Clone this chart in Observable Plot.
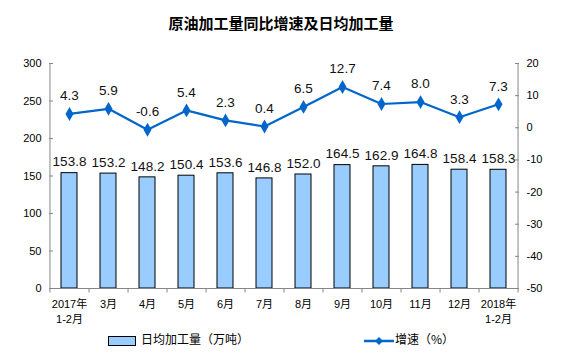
<!DOCTYPE html>
<html><head><meta charset="utf-8">
<script src="https://cdn.jsdelivr.net/npm/d3@7"></script>
<script src="https://cdn.jsdelivr.net/npm/@observablehq/plot@0.6"></script>
<style>
body{margin:0;background:#fff;font-family:"Liberation Sans","Noto Sans CJK SC",sans-serif;}
#wrap{position:relative;width:562px;height:358px;}
#title{position:absolute;top:12px;left:0;width:562px;text-align:center;font-size:15px;font-weight:bold;font-family:"Noto Sans CJK SC",sans-serif;color:#000;}
#chart{position:absolute;top:40px;left:0;}
.leg{position:absolute;top:330px;font-size:12px;font-family:"Noto Sans CJK SC",sans-serif;color:#000;}
</style></head>
<body><div id="wrap"><div id="title">原油加工量同比增速及日均加工量</div><div id="chart"></div>
<div class="leg" style="left:108px;"><span style="display:inline-block;width:26px;height:8px;background:#99CCFF;border:1px solid #000;vertical-align:middle;margin-right:5px;"></span>日均加工量（万吨）</div>
<div class="leg" style="left:364px;"><svg width="30" height="10" style="vertical-align:middle;margin-right:1px;"><line x1="0" y1="5" x2="30" y2="5" stroke="#0066CC" stroke-width="2.5"/><path d="M15,1 L19,5 L15,9 L11,5Z" fill="#0066CC"/></svg>增速（%）</div>
</div>
<script>
const months = ["2017年\n1-2月","3月","4月","5月","6月","7月","8月","9月","10月","11月","12月","2018年\n1-2月"];
const daily = [153.8,153.2,148.2,150.4,153.6,146.8,152.0,164.5,162.9,164.8,158.4,158.3];
const growth = [4.3,5.9,-0.6,5.4,2.3,0.4,6.5,12.7,7.4,8.0,3.3,7.3];
const leftTicks = [0,50,100,150,200,250,300];
const rightTicks = [-50,-40,-30,-20,-10,0,10,20];

const toLeft = g => (g + 50) * 300 / 70;
const data = months.map((m,i)=>({m, d: daily[i], g: growth[i], gy: toLeft(growth[i])}));
const W = 562, ML = 49, MR = 44;
const step = (W - ML - MR) / months.length;
const gray = "#868686";

const plot = Plot.plot({
  width: W, height: 300,
  marginLeft: ML, marginRight: MR, marginTop: 23, marginBottom: 52,
  style: {fontFamily: "'Liberation Sans','Noto Sans CJK SC',sans-serif", fontSize: "11px", color: "#000", overflow: "visible"},
  x: {domain: months, type: "band", paddingInner: 0.58, paddingOuter: 0.29, label: null},
  y: {domain: [0, 300], label: null},
  marks: [
    Plot.barY(data, {x: "m", y: "d", fill: "#99CCFF", stroke: "#000", strokeWidth: 1}),
    Plot.axisY(leftTicks, {anchor: "left", tickSize: -4, tickPadding: 12, stroke: gray, fontSize: 11, label: null}),
    Plot.axisY(rightTicks.map(toLeft), {anchor: "right", tickSize: -4, tickPadding: 12, stroke: gray, fontSize: 11, label: null, tickFormat: d => String(Math.round(d * 70 / 300 - 50))}),
    Plot.ruleX([0], {x: () => months[0], dx: -step/2, y1: 0, y2: 300, stroke: gray}),
    Plot.ruleX([0], {x: () => months[months.length-1], dx: step/2, y1: 0, y2: 300, stroke: gray}),
    Plot.ruleY([0], {stroke: gray}),
    Plot.ruleX(months, {x: d => d, dx: step/2, y1: 0, y2: -6, stroke: gray}),
    Plot.ruleX([months[0]], {x: d => d, dx: -step/2, y1: 0, y2: -6, stroke: gray}),
    Plot.axisX({tickSize: 0, tickPadding: 9, fontSize: 11, lineHeight: 1.35, label: null}),
    Plot.text(data, {x: "m", y: "d", text: d => d.d.toFixed(1), dy: -11, fontSize: 13.5, fill: "#111"}),
    Plot.lineY(data, {x: "m", y: "gy", stroke: "#0066CC", strokeWidth: 2.2}),
    Plot.dot(data, {x: "m", y: "gy", symbol: "diamond", r: 4.2, fill: "#0066CC"}),
    Plot.text(data, {x: "m", y: "gy", text: d => d.g.toFixed(1), dy: -18, fontSize: 13.5, fill: "#111"})
  ]
});
document.getElementById("chart").appendChild(plot);
</script>
</body></html>
